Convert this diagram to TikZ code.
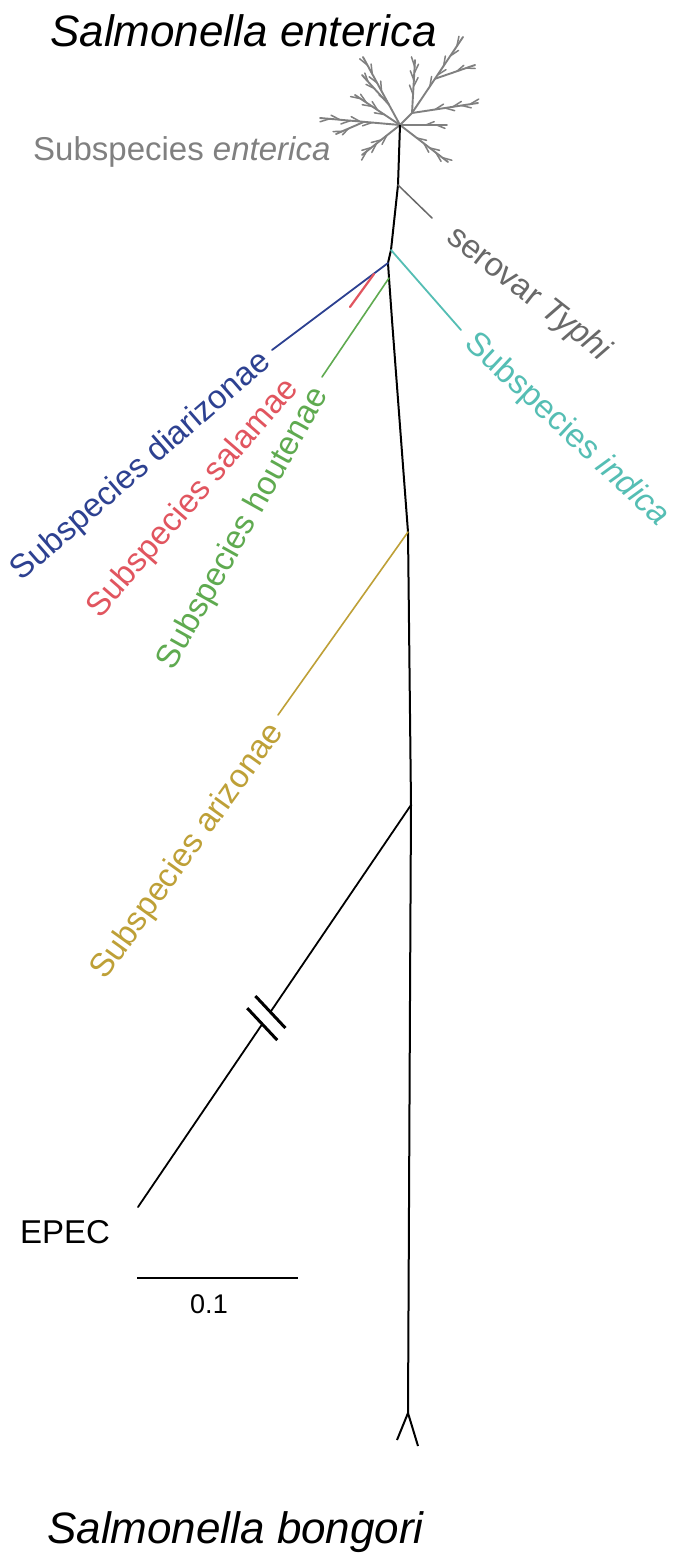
\documentclass[tikz,border=0pt]{standalone}
\usepackage{fontspec}
\setmainfont{Liberation Sans}
\usetikzlibrary{calc}
\definecolor{sgray}{RGB}{128,128,128}
\definecolor{typhigray}{RGB}{105,105,105}
\definecolor{dblue}{RGB}{45,65,145}
\definecolor{sred}{RGB}{225,85,95}
\definecolor{sgreen}{RGB}{95,170,80}
\definecolor{scyan}{RGB}{85,190,180}
\definecolor{solive}{RGB}{190,160,55}
\begin{document}
\begin{tikzpicture}[x=1pt,y=-1pt,
  lab/.style={font=\fontsize{33}{36}\selectfont, inner sep=0pt},
  ttl/.style={font=\fontsize{44}{48}\selectfont\itshape, inner sep=0pt},
  trunk/.style={draw=black, line width=2pt, line join=round},
  branch/.style={line width=1.8pt, line cap=round},
  starline/.style={draw=sgray, line width=1.9pt, line cap=round},
  twigline/.style={draw=sgray, line width=1.5pt, line cap=round},
  brk/.style={draw=black, line width=3pt}]
\useasboundingbox[fill=white] (0,0) rectangle (683,1555);

% ---- texts
\node[ttl, anchor=base west] (tE) at (50,47) {Salmonella enterica};
\node[ttl, anchor=base west] (tB) at (47,1543) {Salmonella bongori};
\node[lab, text=sgray, anchor=base west] (lEnt) at (33,160) {Subspecies \textit{enterica}};
\node[lab, text=typhigray, rotate=-38] (lTy) at (528.5,294.5) {serovar \textit{Typhi}};
\node[lab, text=scyan, rotate=-43] (lInd) at (566.5,430) {Subspecies \textit{indica}};
\node[lab, text=dblue, rotate=41] (lDia) at (141.5,466.5) {Subspecies diarizonae};
\node[lab, text=sred, rotate=49] (lSal) at (193.5,498.5) {Subspecies salamae};
\node[lab, text=sgreen, rotate=60.8] (lHou) at (243.5,528.5) {Subspecies houtenae};
\node[lab, text=solive, rotate=54.3] (lAri) at (188,851.5) {Subspecies arizonae};
\node[lab, anchor=base west] (lEpec) at (20,1243) {EPEC};
\node[font=\fontsize{27}{30}\selectfont, inner sep=0pt, anchor=base] (lSc) at (209,1313) {0.1};

% ---- tree coordinates
\coordinate (c0) at (400,125);
\coordinate (c1) at (398,185);
\coordinate (c2) at (391,250);
\coordinate (c3) at (388,263);
\coordinate (c4) at (389,278);
\coordinate (k1) at (392,320);
\coordinate (c5) at (408,532);
\coordinate (c6) at (411,805);
\coordinate (k2) at (410,1000);
\coordinate (c7) at (408,1413);
\coordinate (fL) at (397,1440);
\coordinate (fR) at (418,1446);
\coordinate (typhiEnd) at (432,218);
\coordinate (indEnd) at (461,330);
\coordinate (diaEnd) at (272,350);
\coordinate (salStart) at (374,274);
\coordinate (salEnd) at (350,307);
\coordinate (houEnd) at (322,377);
\coordinate (ariEnd) at (278,715);
\coordinate (epecEnd) at (138,1207);
\coordinate (sbL) at (137,1278);
\coordinate (sbR) at (298,1278);

% ---- star (subspecies enterica)
\coordinate (u0) at (412,113);
\coordinate (e1) at (363,57);
\coordinate (e2) at (355,95);
\coordinate (e3) at (320,118);
\coordinate (e4) at (362,155);
\coordinate (e5) at (448,162);
\coordinate (e6) at (447,125);
\coordinate (e7) at (415,60);
\coordinate (e8) at (463,37);
\coordinate (e9) at (478,103);
\coordinate (e10) at (336,134);
\coordinate (e11) at (362,75);
\coordinate (e12) at (475,65);
\path ($(c0)!0.3!(e1)$) coordinate (s11);
\path ($(c0)!0.45!(e3)$) coordinate (s10);
\path ($(u0)!0.45!(e8)$) coordinate (s12);
\draw[starline] (c0) -- (e1);
\draw[starline] (c0) -- (e2);
\draw[starline] (c0) -- (e3);
\draw[starline] (c0) -- (e4);
\draw[starline] (c0) -- (e5);
\draw[starline] (c0) -- (e6);
\draw[starline] (c0) -- (u0);
\draw[starline] (u0) -- (e7);
\draw[starline] (u0) -- (e8);
\draw[starline] (u0) -- (e9);
\draw[starline] (s11) -- (e11);
\draw[starline] (s10) -- (e10);
\draw[starline] (s12) -- (e12);
\foreach \a/\b in {c0/e1, c0/e2, c0/e3, c0/e4, c0/e5, u0/e7, u0/e8, u0/e9} {
  \foreach \f/\ang in {0.35/24, 0.5/-24, 0.62/24, 0.75/-22, 0.88/22} {
    \path ($(\a)!\f!(\b)$) coordinate (tw);
    \draw[twigline] (tw) -- ($(tw)!10pt!\ang:(\b)$);
  }
}
\foreach \a/\b in {c0/e6, s11/e11, s10/e10, s12/e12} {
  \foreach \f/\ang in {0.55/22, 0.78/-22} {
    \path ($(\a)!\f!(\b)$) coordinate (tw);
    \draw[twigline] (tw) -- ($(tw)!9pt!\ang:(\b)$);
  }
}

% ---- trunk and branches
\draw[trunk] (c0) -- (c1) -- (c2) -- (c3) -- (c4) -- (k1) -- (c5) -- (c6) -- (k2) -- (c7);
\draw[trunk] (c7) -- (fL);
\draw[trunk] (c7) -- (fR);
\draw[branch, draw=typhigray, line width=1.5pt] (c1) -- (typhiEnd);
\draw[branch, draw=scyan] (c2) -- (indEnd);
\draw[branch, draw=dblue] (c3) -- (diaEnd);
\draw[branch, draw=sred, line width=2.2pt] (salStart) -- (salEnd);
\draw[branch, draw=sgreen, line width=1.6pt] (c4) -- (houEnd);
\draw[branch, draw=solive, line width=1.6pt] (c5) -- (ariEnd);
\draw[branch, draw=black] (c6) -- (epecEnd);

% ---- break marks on the EPEC branch
\path ($(c6)!0.515!(epecEnd)$) coordinate (m2);
\path ($(c6)!0.545!(epecEnd)$) coordinate (m1);
\draw[draw=white, line width=5pt] (m2) -- (m1);
\draw[brk] ($(m1)+(-15,-16)$) -- ($(m1)+(15,16)$);
\draw[brk] ($(m2)+(-15,-16)$) -- ($(m2)+(15,16)$);

% ---- scale bar
\draw[trunk] (sbL) -- (sbR);
\end{tikzpicture}
\end{document}
